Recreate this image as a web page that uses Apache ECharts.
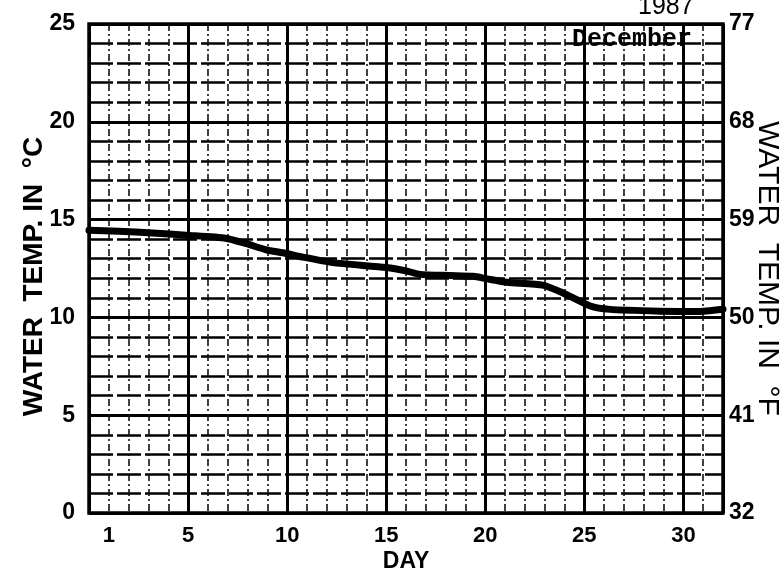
<!DOCTYPE html>
<html>
<head>
<meta charset="utf-8">
<script src="https://cdn.jsdelivr.net/npm/echarts@6/dist/echarts.min.js"></script>
<style>
html,body{margin:0;padding:0;background:#fff;}
#chart{width:781px;height:574px;}
</style>
</head>
<body>
<div id="chart"></div>
<script>
// Data
const days  = [0, 1.5, 3.2, 4.9, 6.9, 7.9, 8.9, 9.9, 10.7, 12.3, 15.0, 16.0, 16.7, 18.2, 19.4, 20.1, 21.1, 22.9, 23.9, 25.3, 26.3, 28.8, 30.7, 32];
const tempC = [14.45, 14.4, 14.32, 14.2, 14.05, 13.78, 13.47, 13.28, 13.1, 12.8, 12.55, 12.38, 12.2, 12.14, 12.1, 11.97, 11.8, 11.65, 11.26, 10.58, 10.41, 10.32, 10.3, 10.42];
const dayLabels = [1, 5, 10, 15, 20, 25, 30];
const titleYear = "1987";
const titleMonth = "December";

const SANS = "'Liberation Sans', Arial, sans-serif";
const lineData = days.map((d, i) => [d, tempC[i]]);

const chart = echarts.init(document.getElementById('chart'));
chart.setOption({
  animation: false,
  backgroundColor: '#fff',
  grid: { left: 89, right: 58, top: 24, bottom: 61, outerBoundsMode: 'none', containLabel: false,
          show: true, borderColor: '#000', borderWidth: 3.5, backgroundColor: 'transparent' },
  xAxis: [
    {
      type: 'value', min: 0, max: 32, interval: 1, position: 'bottom',
      axisLine: { show: false }, axisTick: { show: false }, axisLabel: { show: false },
      splitLine: { show: true, lineStyle: { color: '#111', width: 1.6, type: [7, 3, 2, 3] } }
    },
    {
      type: 'value', min: 0, max: 32, interval: 5, position: 'bottom',
      axisLine: { show: false }, axisTick: { show: false },
      axisLabel: { show: true, customValues: dayLabels, margin: 12, color: '#000', fontFamily: SANS, fontWeight: 'bold', fontSize: 22 },
      splitLine: { show: true, lineStyle: { color: '#000', width: 3 } },
      name: 'DAY', nameLocation: 'middle', nameGap: 37, nameMoveOverlap: false,
      nameTextStyle: { color: '#000', fontFamily: SANS, fontWeight: 'bold', fontSize: 23 }
    }
  ],
  yAxis: [
    {
      type: 'value', min: 0, max: 25, interval: 5, position: 'left',
      axisLine: { show: false }, axisTick: { show: false },
      axisLabel: { margin: 14, color: '#000', fontFamily: SANS, fontWeight: 'bold', fontSize: 23 },
      splitLine: { show: true, lineStyle: { color: '#000', width: 3 } },
      minorTick: { show: false, splitNumber: 5 },
      minorSplitLine: { show: true, lineStyle: { color: '#000', width: 2.5, type: [24, 4] } },
      name: 'WATER  TEMP. IN  °C', nameLocation: 'middle', nameRotate: 90, nameGap: 41, nameMoveOverlap: false,
      nameTextStyle: { color: '#000', fontFamily: SANS, fontWeight: 'bold', fontSize: 28, padding: [0, 16, 0, 0] }
    },
    {
      type: 'value', min: 32, max: 77, interval: 9, position: 'right',
      axisLine: { show: false }, axisTick: { show: false },
      axisLabel: { margin: 6, color: '#000', fontFamily: SANS, fontWeight: 'bold', fontSize: 23 },
      splitLine: { show: false },
      name: 'WATER  TEMP. IN  °F', nameLocation: 'middle', nameRotate: -90, nameGap: 29, nameMoveOverlap: false,
      nameTextStyle: { color: '#000', fontFamily: SANS, fontSize: 30 }
    }
  ],
  series: [{
    type: 'line', xAxisIndex: 1, yAxisIndex: 0, data: lineData,
    showSymbol: false, smooth: 0.2,
    lineStyle: { color: '#000', width: 7, cap: 'round', join: 'round' }
  }],
  graphic: [
    { type: 'text', left: 638, top: -5, style: { text: titleYear, fontSize: 25, fontFamily: SANS, fill: '#000' } },
    { type: 'text', left: 572, top: 27, style: { text: titleMonth, fontSize: 25, fontWeight: 'bold', fontFamily: "'Liberation Mono', 'DejaVu Sans Mono', monospace", fill: '#000' } }
  ]
});
</script>
</body>
</html>
